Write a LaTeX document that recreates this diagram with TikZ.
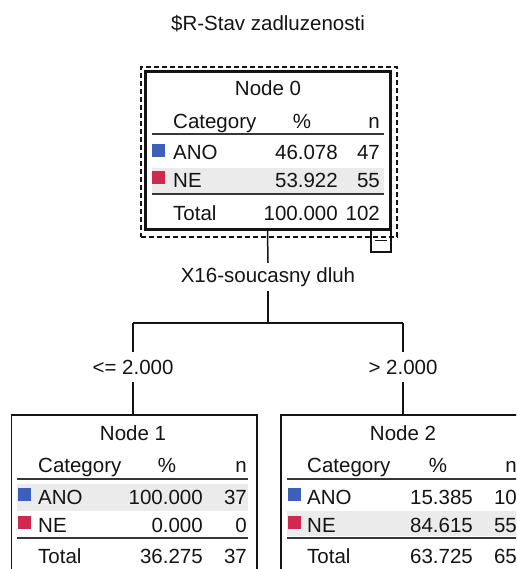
\documentclass[tikz,border=0pt]{standalone}
\usepackage{fontspec}
\newfontfamily\spssfont{Liberation Sans}
\newcommand\lblfont{\spssfont\fontsize{20.5}{24}\selectfont}
\definecolor{catblue}{RGB}{60,95,185}
\definecolor{catred}{RGB}{208,40,78}
\definecolor{band}{RGB}{235,235,235}
\definecolor{ink}{RGB}{20,20,20}
\begin{document}
\begin{tikzpicture}[x=1pt,y=-1pt,
  every node/.style={font=\lblfont, text=ink, inner sep=0pt},
  box/.style={draw=ink, line width=1.2pt, rectangle},
  rule/.style={draw=ink!85, line width=2pt},
  conn/.style={draw=ink, line width=1.5pt},
  sq/.style={rectangle, minimum width=13pt, minimum height=13pt},
  bandbox/.style={fill=band, rectangle},
  lt/.style={anchor=base west},
  rt/.style={anchor=base east},
  ct/.style={anchor=base}]
\clip (0,0) rectangle (516,569);
\fill[white] (0,0) rectangle (516,569);

% title
\node[ct] (title) at (268,30.5) {\$R-Stav zadluzenosti};

% ---------- Node 0 ----------
\node[bandbox, minimum width=232pt, minimum height=25pt] (b0) at (268,180.5) {};
\node[box, line width=3pt, minimum width=245pt, minimum height=158pt] (n0) at (267.5,150.5) {};
\node[draw=ink, line width=2pt, dash pattern=on 5pt off 3pt, minimum width=256pt, minimum height=170pt] (n0f) at (269,152) {};
\node[ct] (n0t) at (268,95.5) {Node 0};
\node[lt] (n0c) at (173,129) {Category};
\node[ct] (n0p) at (302,129) {\%};
\node[rt] (n0n) at (380,129) {n};
\coordinate (r0a) at (152,134.5); \coordinate (r0b) at (384,134.5);
\draw[rule] (r0a) -- (r0b);
\node[sq, fill=catblue] (s0a) at (158.5,150.5) {};
\node[lt] (n0a1) at (173,160) {ANO};
\node[rt] (n0a2) at (338,160) {46.078};
\node[rt] (n0a3) at (380,160) {47};
\node[sq, fill=catred] (s0b) at (158.5,178) {};
\node[lt] (n0b1) at (173,188) {NE};
\node[rt] (n0b2) at (338,188) {53.922};
\node[rt] (n0b3) at (380,188) {55};
\coordinate (r0c) at (152,194); \coordinate (r0d) at (384,194);
\draw[rule] (r0c) -- (r0d);
\node[lt] (n0t1) at (173,220) {Total};
\node[rt] (n0t2) at (338,220) {100.000};
\node[rt] (n0t3) at (380,220) {102};
% collapse box
\node[box, line width=1.4pt, minimum width=20pt, minimum height=22pt] (mb) at (381,241) {};
\coordinate (m1) at (375,240.5); \coordinate (m2) at (387,240.5);
\draw[ink, line width=1.4pt] (m1) -- (m2);

% ---------- connectors ----------
\node[minimum height=28pt] (x16) at (268,277) {X16-soucasny dluh};
\coordinate (j) at (268,323);
\coordinate (jl) at (133,323);
\coordinate (jr) at (403,323);
\draw[conn] (n0.south) -- (x16.north);
\draw[conn] (x16.south) -- (j);
\draw[conn] (jl) -- (jr);
\node[minimum height=29pt] (le) at (133,367) {<= 2.000};
\node[minimum height=29pt] (gt) at (403,367) {> 2.000};
\draw[conn] (jl) -- (le.north);
\draw[conn] (jr) -- (gt.north);

% ---------- Node 1 ----------
\node[bandbox, minimum width=231pt, minimum height=27pt] (b1) at (132.5,497.5) {};
\node[box, minimum width=245.3pt, minimum height=185pt] (n1) at (134.35,507.5) {};
\draw[conn] (le.south) -- (le.south |- n1.north);
\node[ct] (n1t) at (133,440) {Node 1};
\node[lt] (n1c) at (38,472) {Category};
\node[ct] (n1p) at (167,472) {\%};
\node[rt] (n1n) at (247,472) {n};
\coordinate (r1a) at (17,479); \coordinate (r1b) at (248,479);
\draw[rule] (r1a) -- (r1b);
\node[sq, fill=catblue] (s1a) at (24,494.5) {};
\node[lt] (n1a1) at (38,504) {ANO};
\node[rt] (n1a2) at (203,504) {100.000};
\node[rt] (n1a3) at (247,504) {37};
\node[sq, fill=catred] (s1b) at (24,522) {};
\node[lt] (n1b1) at (38,532) {NE};
\node[rt] (n1b2) at (203,532) {0.000};
\node[rt] (n1b3) at (247,532) {0};
\coordinate (r1c) at (17,537.5); \coordinate (r1d) at (248,537.5);
\draw[rule] (r1c) -- (r1d);
\node[lt] (n1t1) at (38,563) {Total};
\node[rt] (n1t2) at (203,563) {36.275};
\node[rt] (n1t3) at (247,563) {37};

% ---------- Node 2 ----------
\node[bandbox, minimum width=231pt, minimum height=25pt] (b2) at (402.5,523.5) {};
\node[box, minimum width=245.3pt, minimum height=185pt] (n2) at (403.65,507.5) {};
\draw[conn] (gt.south) -- (gt.south |- n2.north);
\node[ct] (n2t) at (403,440) {Node 2};
\node[lt] (n2c) at (307,472) {Category};
\node[ct] (n2p) at (438,472) {\%};
\node[rt] (n2n) at (517,472) {n};
\coordinate (r2a) at (287,479); \coordinate (r2b) at (518,479);
\draw[rule] (r2a) -- (r2b);
\node[sq, fill=catblue] (s2a) at (294,494.5) {};
\node[lt] (n2a1) at (307,504) {ANO};
\node[rt] (n2a2) at (473,504) {15.385};
\node[rt] (n2a3) at (517,504) {10};
\node[sq, fill=catred] (s2b) at (294,522) {};
\node[lt] (n2b1) at (307,532) {NE};
\node[rt] (n2b2) at (473,532) {84.615};
\node[rt] (n2b3) at (517,532) {55};
\coordinate (r2c) at (287,537.5); \coordinate (r2d) at (518,537.5);
\draw[rule] (r2c) -- (r2d);
\node[lt] (n2t1) at (307,563) {Total};
\node[rt] (n2t2) at (473,563) {63.725};
\node[rt] (n2t3) at (517,563) {65};
\end{tikzpicture}
\end{document}
